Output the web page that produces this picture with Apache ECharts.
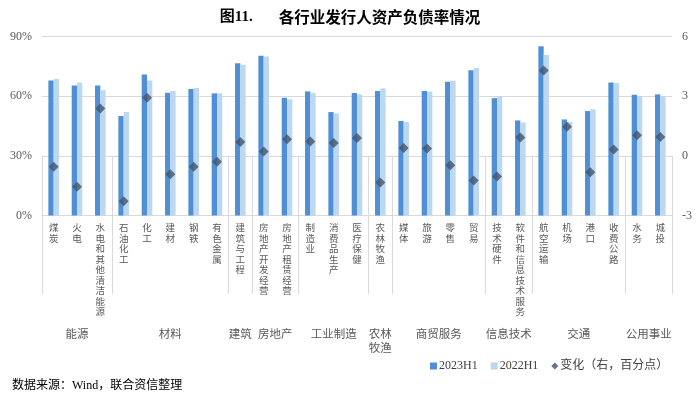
<!DOCTYPE html>
<html><head><meta charset="utf-8">
<script src="https://cdn.jsdelivr.net/npm/echarts@6/dist/echarts.min.js"></script>
<style>html,body{margin:0;padding:0;background:#fff}#c{width:700px;height:394px}</style>
</head><body><div id="c"></div>
<script>
var categories = ['煤炭','火电','水电和其他清洁能源','石油化工','化工','建材','钢铁','有色金属','建筑与工程','房地产开发经营','房地产租赁经营','制造业','消费品生产','医疗保健','农林牧渔','媒体','旅游','零售','贸易','技术硬件','软件和信息技术服务','航空运输','机场','港口','收费公路','水务','城投'];
var h2023 = [67.9,65.4,65.4,50.0,70.9,61.7,63.6,61.4,76.5,80.3,59.2,62.4,52.0,61.6,62.6,47.5,62.6,67.2,73.0,59.0,47.8,85.1,48.3,52.5,66.9,60.7,60.9];
var h2022 = [68.6,66.9,63.0,52.0,67.9,62.6,64.1,61.4,75.8,80.0,58.4,61.6,51.3,60.9,63.9,47.0,62.3,67.7,74.1,60.1,46.8,80.7,47.0,53.4,66.6,60.1,60.1];
var change = [-0.55,-1.56,2.38,-2.28,2.92,-0.92,-0.55,-0.3,0.7,0.22,0.84,0.72,0.64,0.9,-1.34,0.4,0.37,-0.47,-1.24,-1.04,0.92,4.29,1.46,-0.82,0.32,1.04,0.95];
var groupNames = ['能源','材料','建筑','房地产','工业制造','农林\n牧渔','商贸服务','信息技术','交通','公用事业'];
var groupSizes = [3,5,1,2,3,1,4,2,4,2];
var leftTicks = [0,30,60,90];
var rightTicks = [-3,0,3,6];

// build half-step group axis
var n = categories.length;
var half = [];
for (var i = 0; i <= 2*n; i++) half.push('');
var boundaries = {0:true};
var s = 0;
groupSizes.forEach(function(sz, gi){
  half[2*s + sz] = groupNames[gi];
  s += sz;
  boundaries[2*s] = true;
});

var FONT = "'Liberation Serif','Noto Sans CJK SC',serif";
var chart = echarts.init(document.getElementById('c'));
chart.setOption({
  animation: false,
  textStyle: {fontFamily: FONT},
  title: [{
    left: 'center', top: 4,
    text: '{a|图11.}{b|各行业发行人资产负债率情况}',
    textStyle: {rich: {
      a: {fontFamily: "'Liberation Serif','Noto Sans CJK SC'", fontWeight: 'bold', fontSize: 15, color: '#000', padding: [0, 26, 0, 0]},
      b: {fontFamily: "'Noto Sans CJK SC'", fontWeight: 'bold', fontSize: 15.5, color: '#000'}
    }}
  }, {
    left: 7, top: 375,
    text: '数据来源：Wind，联合资信整理',
    textStyle: {fontFamily: FONT, fontSize: 12, fontWeight: 'normal', color: '#000'}
  }],
  legend: {
    left: 425, top: 355, itemGap: 13, itemWidth: 7, itemHeight: 7,
    textStyle: {fontFamily: FONT, fontSize: 12, color: '#404040', padding: [0,0,0,-3]},
    data: [{name: '2023H1', icon: 'rect'}, {name: '2022H1', icon: 'rect'}, {name: '变化（右，百分点）', icon: 'diamond'}]
  },
  grid: {left: 42, right: 28, top: 36.5, bottom: 178.5},
  xAxis: [{
    type: 'category', data: categories, position: 'bottom',
    axisLine: {lineStyle: {color: '#d9d9d9'}},
    axisTick: {show: false},
    axisLabel: {
      interval: 0, margin: 7, fontSize: 9.5, lineHeight: 10.5, color: '#595959',
      fontFamily: "'Noto Sans CJK SC'", verticalAlign: 'top',
      formatter: function(v){ return v.split('').join('\n'); }
    }
  }, {
    type: 'category', data: half, boundaryGap: false, position: 'bottom',
    axisLine: {show: false},
    axisTick: {show: true, length: 138, interval: function(idx){ return !!boundaries[idx]; }, lineStyle: {color: '#d9d9d9'}},
    axisLabel: {interval: 0, margin: 111, fontSize: 11.5, lineHeight: 14, color: '#595959', fontFamily: "'Noto Sans CJK SC'", verticalAlign: 'top'}
  }],
  yAxis: [{
    type: 'value', min: leftTicks[0], max: leftTicks[leftTicks.length-1], interval: 30,
    axisLine: {show: false}, axisTick: {show: false},
    splitLine: {lineStyle: {color: '#d9d9d9'}},
    axisLabel: {margin: 10, fontSize: 12, color: '#595959', formatter: '{value}%'}
  }, {
    type: 'value', min: rightTicks[0], max: rightTicks[rightTicks.length-1], interval: 3,
    axisLine: {show: false}, axisTick: {show: false}, splitLine: {show: false},
    axisLabel: {margin: 10, fontSize: 12, color: '#595959'}
  }],
  series: [{
    name: '2023H1', type: 'bar', data: h2023, barWidth: 5.3, barGap: '0%',
    itemStyle: {color: '#4f8fd6'}
  }, {
    name: '2022H1', type: 'bar', data: h2022, barWidth: 5.3, barGap: '0%',
    itemStyle: {color: '#bdd7ee'}
  }, {
    name: '变化（右，百分点）', type: 'scatter', yAxisIndex: 1, data: change,
    symbol: 'diamond', symbolSize: 10, itemStyle: {color: '#44546a'}, z: 5
  }]
});
</script></body></html>
